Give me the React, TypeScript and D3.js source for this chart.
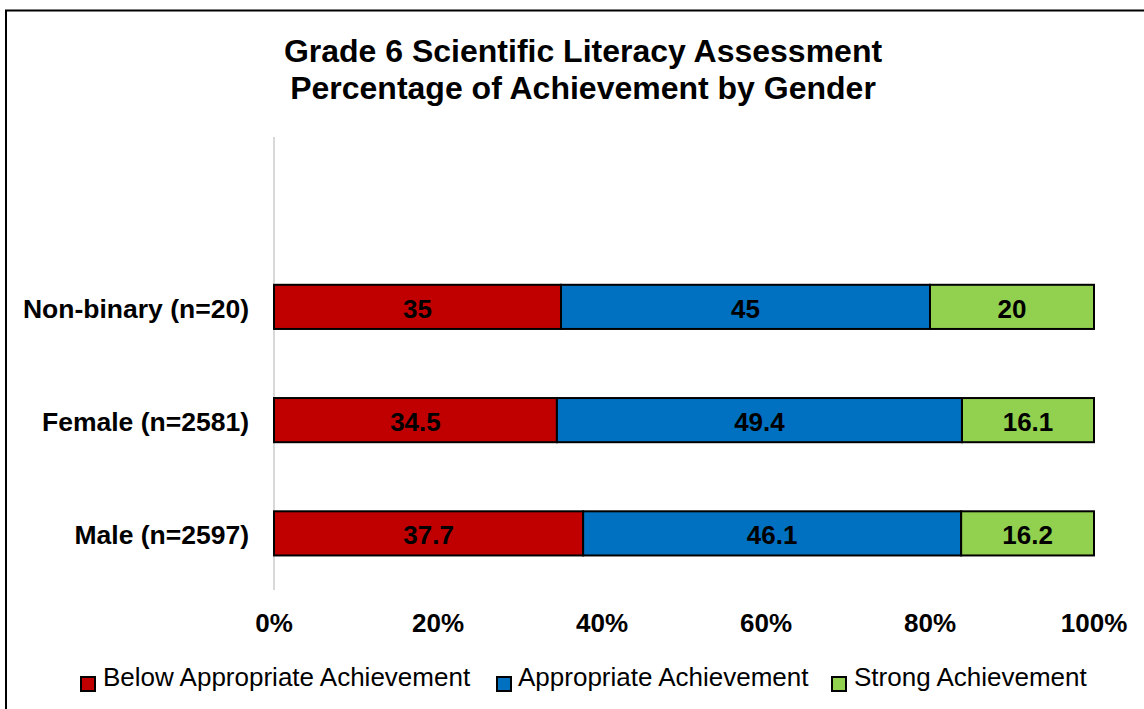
import React from "react";
import * as d3 from "d3";

const categories = ["Non-binary (n=20)", "Female (n=2581)", "Male (n=2597)"];
const seriesNames = ["Below Appropriate Achievement", "Appropriate Achievement", "Strong Achievement"];
const seriesColors = ["#C00000", "#0070C0", "#92D050"];
const belowValues = [35, 34.5, 37.7];
const appropriateValues = [45, 49.4, 46.1];
const strongValues = [20, 16.1, 16.2];
const tickValues = [0, 20, 40, 60, 80, 100];
const titleLines = ["Grade 6 Scientific Literacy Assessment", "Percentage of Achievement by Gender"];

const W = 1144;
const H = 709;
const FONT = "'Liberation Sans', Arial, sans-serif";

export default function App() {
  const x = d3.scaleLinear().domain([0, 100]).range([274, 1094]);
  const y = d3
    .scaleBand<string>()
    .domain(["", ...categories])
    .range([137, 590])
    .paddingInner(0.61)
    .paddingOuter(0.305);

  const series = [belowValues, appropriateValues, strongValues];
  const rows = categories.map((c, i) => {
    let acc = 0;
    return series.map((s, k) => {
      const x0 = acc;
      acc += s[i];
      return { cat: c, k, x0, x1: acc, v: s[i] };
    });
  });

  const legendItems = [
    { sx: 81, tx: 103 },
    { sx: 497, tx: 518 },
    { sx: 832, tx: 854 },
  ];

  const axisTop = 137;
  const axisBottom = 590;

  return (
    <svg width={W} height={H} style={{ position: "absolute", left: 0, top: 0 }}>
      <rect x={0} y={0} width={W} height={H} fill="#fff" />
      <rect x={6} y={10.5} width={W + 20} height={H + 20} fill="none" stroke="#000" strokeWidth={2} />
      {titleLines.map((t, i) => (
        <text
          key={i}
          x={583}
          y={62 + i * 37}
          textAnchor="middle"
          fontFamily={FONT}
          fontWeight="bold"
          fontSize={32}
          fill="#000"
        >
          {t}
        </text>
      ))}
      <line x1={x(0)} x2={x(0)} y1={axisTop} y2={axisBottom} stroke="#d9d9d9" strokeWidth={2} />
      {rows.map((segs, i) =>
        segs.map((d) => {
          const by = y(d.cat)!;
          const bh = y.bandwidth();
          return (
            <g key={`${i}-${d.k}`}>
              <rect
                x={x(d.x0)}
                y={by}
                width={x(d.x1) - x(d.x0)}
                height={bh}
                fill={seriesColors[d.k]}
                stroke="#000"
                strokeWidth={2}
              />
              <text
                x={(x(d.x0) + x(d.x1)) / 2}
                y={by + bh / 2 + 11}
                textAnchor="middle"
                fontFamily={FONT}
                fontWeight="bold"
                fontSize={26}
                fill="#000"
              >
                {d.v}
              </text>
            </g>
          );
        })
      )}
      {categories.map((c) => (
        <text
          key={c}
          x={249}
          y={y(c)! + y.bandwidth() / 2 + 11}
          textAnchor="end"
          fontFamily={FONT}
          fontWeight="bold"
          fontSize={26.5}
          fill="#000"
        >
          {c}
        </text>
      ))}
      {tickValues.map((t) => (
        <text
          key={t}
          x={x(t)}
          y={632}
          textAnchor="middle"
          fontFamily={FONT}
          fontWeight="bold"
          fontSize={26}
          fill="#000"
        >
          {t + "%"}
        </text>
      ))}
      {seriesNames.map((n, k) => (
        <g key={n}>
          <rect
            x={legendItems[k].sx}
            y={677}
            width={14}
            height={14}
            fill={seriesColors[k]}
            stroke="#000"
            strokeWidth={2}
          />
          <text x={legendItems[k].tx} y={686} fontFamily={FONT} fontSize={26} fill="#000">
            {n}
          </text>
        </g>
      ))}
    </svg>
  );
}
